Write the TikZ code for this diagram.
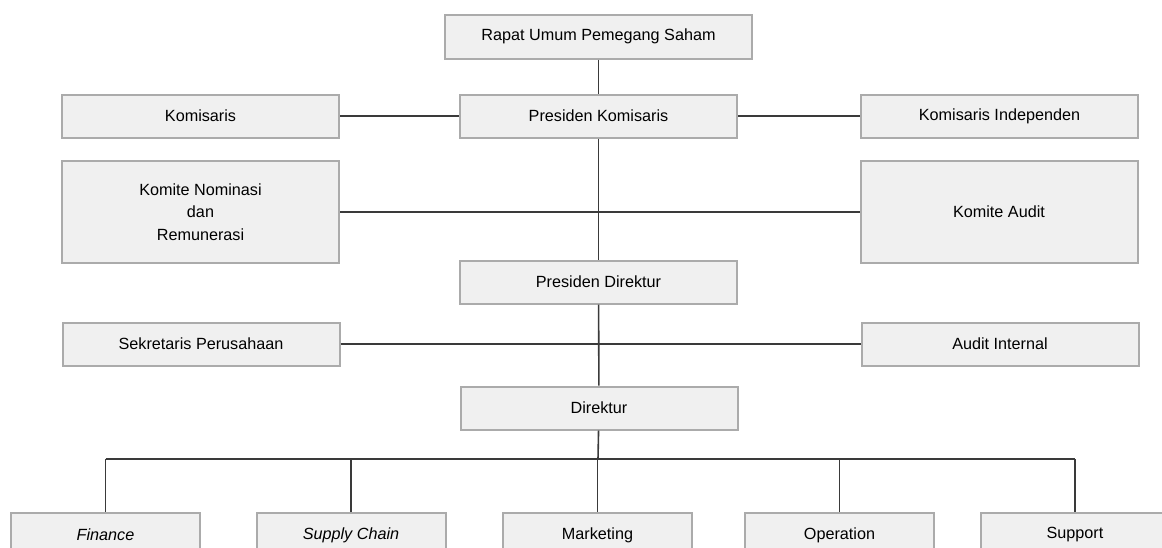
\documentclass[tikz,border=0pt]{standalone}
\usepackage{fontspec}
\setmainfont{Liberation Sans}
\definecolor{boxfill}{HTML}{F0F0F0}
\definecolor{boxline}{HTML}{ABABAB}
\definecolor{linecol}{HTML}{3A3A3A}
\begin{document}
\begin{tikzpicture}[x=1pt, y=-1pt,
    jabatan/.style={draw=boxline, fill=boxfill, line width=2pt, inner sep=0pt,
        minimum width=277pt, minimum height=43pt, align=center,
        font=\fontsize{16.2}{22.5}\selectfont},
    unit/.style={jabatan, minimum width=189pt, minimum height=44pt},
    garis/.style={draw=linecol, line width=1.6pt}]
    % Frame of the picture
    \useasboundingbox (0,0) rectangle (1162,547);
    \clip (0,0) rectangle (1162,547);

    % Draw board boxes
    \node[jabatan, minimum width=307pt, minimum height=44pt] (rups) at (598.5,36.5) {Rapat Umum Pemegang Saham};
    \node[jabatan] (preskom) at (598.5,116) {Presiden Komisaris};
    \node[jabatan] (komisaris) at (200.5,116) {Komisaris};
    \node[jabatan] (independen) at (999.5,116) {Komisaris Independen};
    \node[jabatan, minimum height=102pt] (nominasi) at (200.5,212) {Komite Nominasi\\dan\\Remunerasi};
    \node[jabatan, minimum height=102pt] (audit) at (999,212) {Komite Audit};

    % Draw director boxes
    \node[jabatan] (presdir) at (598.5,282) {Presiden Direktur};
    \node[jabatan] (sekretaris) at (201,344) {Sekretaris Perusahaan};
    \node[jabatan] (internal) at (1000,344) {Audit Internal};
    \node[jabatan] (direktur) at (599,408) {Direktur};

    % Draw unit boxes
    \node[unit] (finance) at (105.5,535) {\itshape Finance};
    \node[unit] (supply) at (351,535) {\itshape Supply Chain};
    \node[unit] (marketing) at (597.5,535) {Marketing};
    \node[unit] (operation) at (839.5,535) {Operation};
    \node[unit] (support) at (1075,535) {Support};

    % Draw connectors
    \draw[garis] (rups) -- (preskom);
    \draw[garis] (komisaris) -- (preskom);
    \draw[garis] (preskom) -- (independen);
    \draw[garis] (preskom) -- (presdir);
    \draw[garis] (nominasi) -- (audit);
    \draw[garis] (presdir) -- (direktur);
    \draw[garis] (sekretaris) -- (internal);

    % Draw bar to the units
    \coordinate (bar) at (598,459);
    \draw[garis] (direktur) -- (bar);
    \draw[garis] (finance |- bar) -- (support |- bar);
    \foreach \u in {finance,supply,marketing,operation,support}
        \draw[garis] (\u |- bar) -- (\u);
\end{tikzpicture}
\end{document}
